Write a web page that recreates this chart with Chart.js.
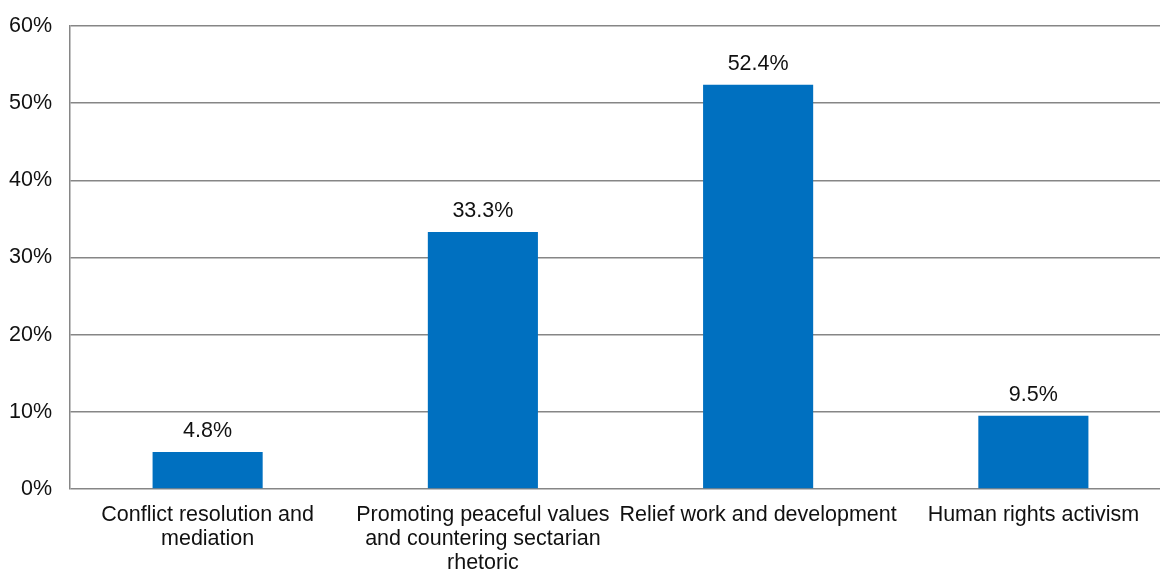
<!DOCTYPE html>
<html>
<head>
<meta charset="utf-8">
<script src="https://cdn.jsdelivr.net/npm/chart.js@4/dist/chart.umd.min.js"></script>
<style>
    html, body { margin: 0; padding: 0; background: #fff; overflow: hidden; }
    #wrap { width: 1160px; height: 571px; overflow: hidden; }
</style>
</head>
<body>
<div id="wrap">
    <canvas id="activityChart" width="1180" height="571"></canvas>
</div>
<script>
// Chart data
const categories = [
    ['Conflict resolution and', 'mediation'],
    ['Promoting peaceful values', 'and countering sectarian', 'rhetoric'],
    'Relief work and development',
    'Human rights activism'
];
const shares = [4.8, 33.3, 52.4, 9.5];
const yTicks = [0, 10, 20, 30, 40, 50, 60];

const FONT = 'Arial, "Liberation Sans", sans-serif';
const GRID_COLOR = '#868686';

// Draw the value above each bar
const valueLabels = {
    id: 'valueLabels',
    afterDatasetsDraw(chart) {
        const ctx = chart.ctx;
        const meta = chart.getDatasetMeta(0);
        ctx.save();
        ctx.font = '21.5px ' + FONT;
        ctx.fillStyle = '#111';
        ctx.textAlign = 'center';
        ctx.textBaseline = 'alphabetic';
        meta.data.forEach(function(bar, i) {
            ctx.fillText(shares[i].toFixed(1) + '%', bar.x, bar.y - 15);
        });
        ctx.restore();
    }
};

const ctx = document.getElementById('activityChart').getContext('2d');
new Chart(ctx, {
    type: 'bar',
    data: {
        labels: categories,
        datasets: [{
            data: shares,
            backgroundColor: '#0070C0',
            borderWidth: 0,
            barPercentage: 1,
            categoryPercentage: 0.4
        }]
    },
    options: {
        responsive: false,
        animation: false,
        layout: {
            padding: { top: 26, right: 9, left: 0, bottom: 0 }
        },
        plugins: {
            legend: { display: false },
            tooltip: { enabled: false }
        },
        scales: {
            x: {
                grid: { display: false, drawTicks: false },
                border: { display: false },
                ticks: {
                    color: '#111',
                    font: { family: FONT, size: 21.5, lineHeight: '24px' },
                    padding: 14,
                    maxRotation: 0,
                    autoSkip: false
                },
                afterFit(scale) {
                    scale.height = 82;
                }
            },
            y: {
                min: 0,
                max: 60,
                grid: { color: GRID_COLOR, lineWidth: 1.5, drawTicks: false },
                border: { display: true, color: GRID_COLOR, width: 1.5 },
                afterBuildTicks(scale) {
                    scale.ticks = yTicks.map(v => ({ value: v }));
                },
                ticks: {
                    color: '#111',
                    font: { family: FONT, size: 21.5, lineHeight: 1 },
                    padding: 18,
                    callback: v => v + '%'
                },
                afterFit(scale) {
                    scale.width = 70;
                    scale.paddingTop = 0;
                    scale.paddingBottom = 0;
                }
            }
        }
    },
    plugins: [valueLabels]
});
</script>
</body>
</html>
